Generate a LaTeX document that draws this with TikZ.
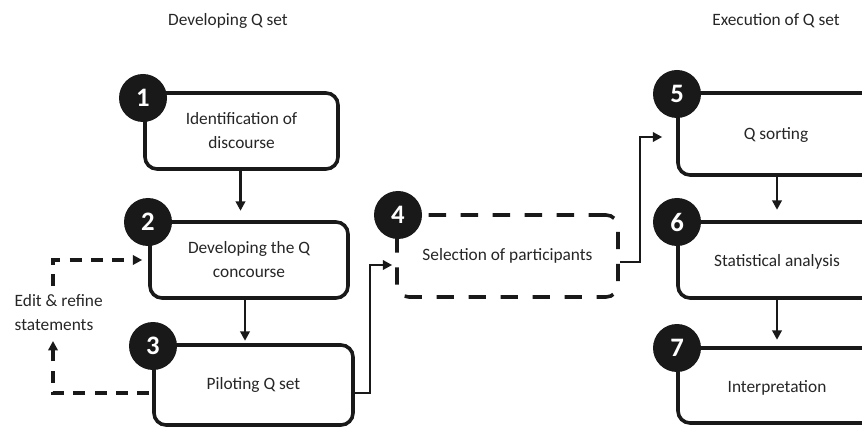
\documentclass[tikz,border=0pt]{standalone}
\usepackage{fontspec}
\setmainfont{Carlito}
\usetikzlibrary{arrows.meta,calc}
\begin{document}
\begin{tikzpicture}[x=0.75pt,y=-0.75pt,
  font=\fontsize{13}{18}\selectfont,
  txt/.style={text=black!85},
  box/.style={draw=black!90,line width=2.7pt,rounded corners=9pt,fill=white,align=center,text=black!85},
  dbox/.style={box,dash pattern=on 13pt off 11pt},
  num/.style={circle,fill=black!90,minimum size=36pt,inner sep=0pt,text=white,font=\fontsize{20}{20}\bfseries\selectfont},
  arr/.style={draw=black!90,line width=1.9pt,-{Triangle[length=7pt,width=7pt]}},
  darr/.style={arr,line width=2.3pt,dash pattern=on 9pt off 7pt}]
\useasboundingbox (0,0) rectangle (862,427);
\clip (0,0) rectangle (862,427);
% headers
\node[txt] (h1) at (228,21) {Developing Q set};
\node[txt] (h2) at (776,21) {Execution of Q set};
% boxes
\node[box,minimum width=193*0.75pt,minimum height=76*0.75pt] (b1) at (241.5,131) {Identification of\\discourse};
\node[box,minimum width=198*0.75pt,minimum height=76*0.75pt] (b2) at (249,260) {Developing the Q\\concourse};
\node[box,minimum width=199*0.75pt,minimum height=80*0.75pt] (b3) at (253.5,385) {Piloting Q set};
\node[dbox,minimum width=221*0.75pt,minimum height=82*0.75pt] (b4) at (507.5,256) {Selection of participants};
\node[box,minimum width=282*0.75pt,minimum height=82*0.75pt] (b5) at (819,134) {};
\node[box,minimum width=282*0.75pt,minimum height=76*0.75pt] (b6) at (819,260) {};
\node[box,minimum width=282*0.75pt,minimum height=75*0.75pt] (b7) at (819,385.5) {};
\node[txt] (t5) at (776,135) {Q sorting};
\node[txt] (t6) at (777,262) {Statistical analysis};
\node[txt] (t7) at (777,388) {Interpretation};
% number circles
\node[num] (c1) at (143,98) {1};
\node[num] (c2) at (148,222) {2};
\node[num] (c3) at (153,346) {3};
\node[num] (c4) at (398,215) {4};
\node[num] (c5) at (677,94) {5};
\node[num] (c6) at (677,222) {6};
\node[num] (c7) at (677,348) {7};
% vertical arrows
\draw[arr] ($(b1.south)+(-1,0)$) -- ($(b1.south)+(-1,40)$);
\draw[arr] ($(b2.south)+(-4,0)$) -- ($(b2.south)+(-4,41)$);
\draw[arr] ($(b5.south)+(-42,0)$) -- ($(b5.south)+(-42,33)$);
\draw[arr] ($(b6.south)+(-42,0)$) -- ($(b6.south)+(-42,40)$);
% feedback loop
\node[txt,align=left,anchor=west] (edit) at (10,313) {Edit \& refine\\statements};
\coordinate (fa) at (53,341);
\coordinate (fb) at (53,286);
\draw[darr] ($(b3.west)+(-3,8)$) -| (fa);
\draw[darr] (fb) |- ($(b2.west)+(-6,0)$);
% b3 -> b4
\draw[arr] ($(b3.east)+(-4,8)$) -| ($(b4.west)+(-25,9)$) -- ($(b4.west)+(-3,9)$);
% b4 -> b5
\draw[arr] ($(b4.east)+(0,6)$) -| ($(b5.west)+(-36,3)$) -- ($(b5.west)+(-14,3)$);
\end{tikzpicture}
\end{document}
